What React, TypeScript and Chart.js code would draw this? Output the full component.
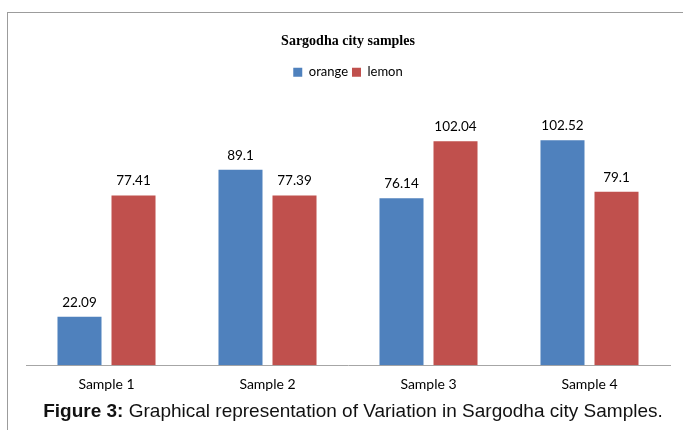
import React, { useEffect, useRef } from "react";
import { Chart, registerables } from "chart.js";

Chart.register(...registerables);

const categories = ["Sample 1", "Sample 2", "Sample 3", "Sample 4"];
const seriesNames = ["orange", "lemon"];
const orangeValues = [22.09, 89.1, 76.14, 102.52];
const lemonValues = [77.41, 77.39, 102.04, 79.1];
const seriesColors = ["#4F81BD", "#C0504D"];
const chartTitle = "Sargodha city samples";

export default function App() {
  const ref = useRef<HTMLCanvasElement>(null);

  useEffect(() => {
    if (!ref.current) return;
    const labelPlugin = {
      id: "barLabels",
      afterDatasetsDraw(chart: any) {
        const ctx = chart.ctx;
        ctx.save();
        ctx.font = "13.5px Lato";
        ctx.fillStyle = "#000";
        ctx.textAlign = "center";
        ctx.textBaseline = "alphabetic";
        chart.data.datasets.forEach((ds: any, i: number) => {
          const meta = chart.getDatasetMeta(i);
          meta.data.forEach((el: any, j: number) => {
            ctx.fillText(String(ds.data[j]), el.x, el.y - 10);
          });
        });
        ctx.restore();
      },
    };

    const chart = new Chart(ref.current, {
      type: "bar",
      data: {
        labels: categories,
        datasets: [
          {
            label: seriesNames[0],
            data: orangeValues,
            backgroundColor: seriesColors[0],
            borderWidth: 0,
            categoryPercentage: 0.671,
            barPercentage: 0.815,
          },
          {
            label: seriesNames[1],
            data: lemonValues,
            backgroundColor: seriesColors[1],
            borderWidth: 0,
            categoryPercentage: 0.671,
            barPercentage: 0.815,
          },
        ],
      },
      options: {
        responsive: false,
        animation: false,
        devicePixelRatio: 1,
        layout: { padding: { left: 26, right: 13, top: 0, bottom: 10 } },
        plugins: {
          title: {
            display: true,
            text: chartTitle,
            color: "#000",
            font: { family: "Liberation Serif", size: 14, weight: "bold" },
            padding: { top: 33, bottom: 12 },
          },
          legend: {
            display: true,
            labels: {
              boxWidth: 9,
              boxHeight: 9,
              color: "#000",
              font: { family: "Lato", size: 13 },
              padding: 4,
            },
          },
          tooltip: { enabled: false },
        },
        scales: {
          x: {
            grid: { display: false, drawTicks: false },
            border: { display: true, color: "#a6a6a6", width: 1 },
            ticks: { color: "#000", font: { family: "Lato", size: 14 }, padding: 11 },
          },
          y: { display: false, min: 0, max: 126 },
        },
      },
      plugins: [labelPlugin],
    });
    return () => chart.destroy();
  }, []);

  return (
    <div style={{ position: "absolute", left: 0, top: 0, width: 683, height: 430, overflow: "hidden", background: "#fff" }}>
      <div
        style={{
          position: "absolute",
          left: 7,
          top: 12,
          width: 720,
          height: 440,
          borderTop: "1px solid #9c9c9c",
          borderLeft: "1px solid #9c9c9c",
        }}
      />
      <canvas ref={ref} width={683} height={414} style={{ position: "absolute", left: 0, top: 0 }} />
      <div
        style={{
          position: "absolute",
          left: 0,
          top: 400,
          width: 706,
          textAlign: "center",
          fontFamily: "'Liberation Sans', Arial, sans-serif",
          fontSize: 19,
          color: "#111",
          whiteSpace: "nowrap",
        }}
      >
        <b>Figure 3:</b> Graphical representation of Variation in Sargodha city Samples.
      </div>
    </div>
  );
}
